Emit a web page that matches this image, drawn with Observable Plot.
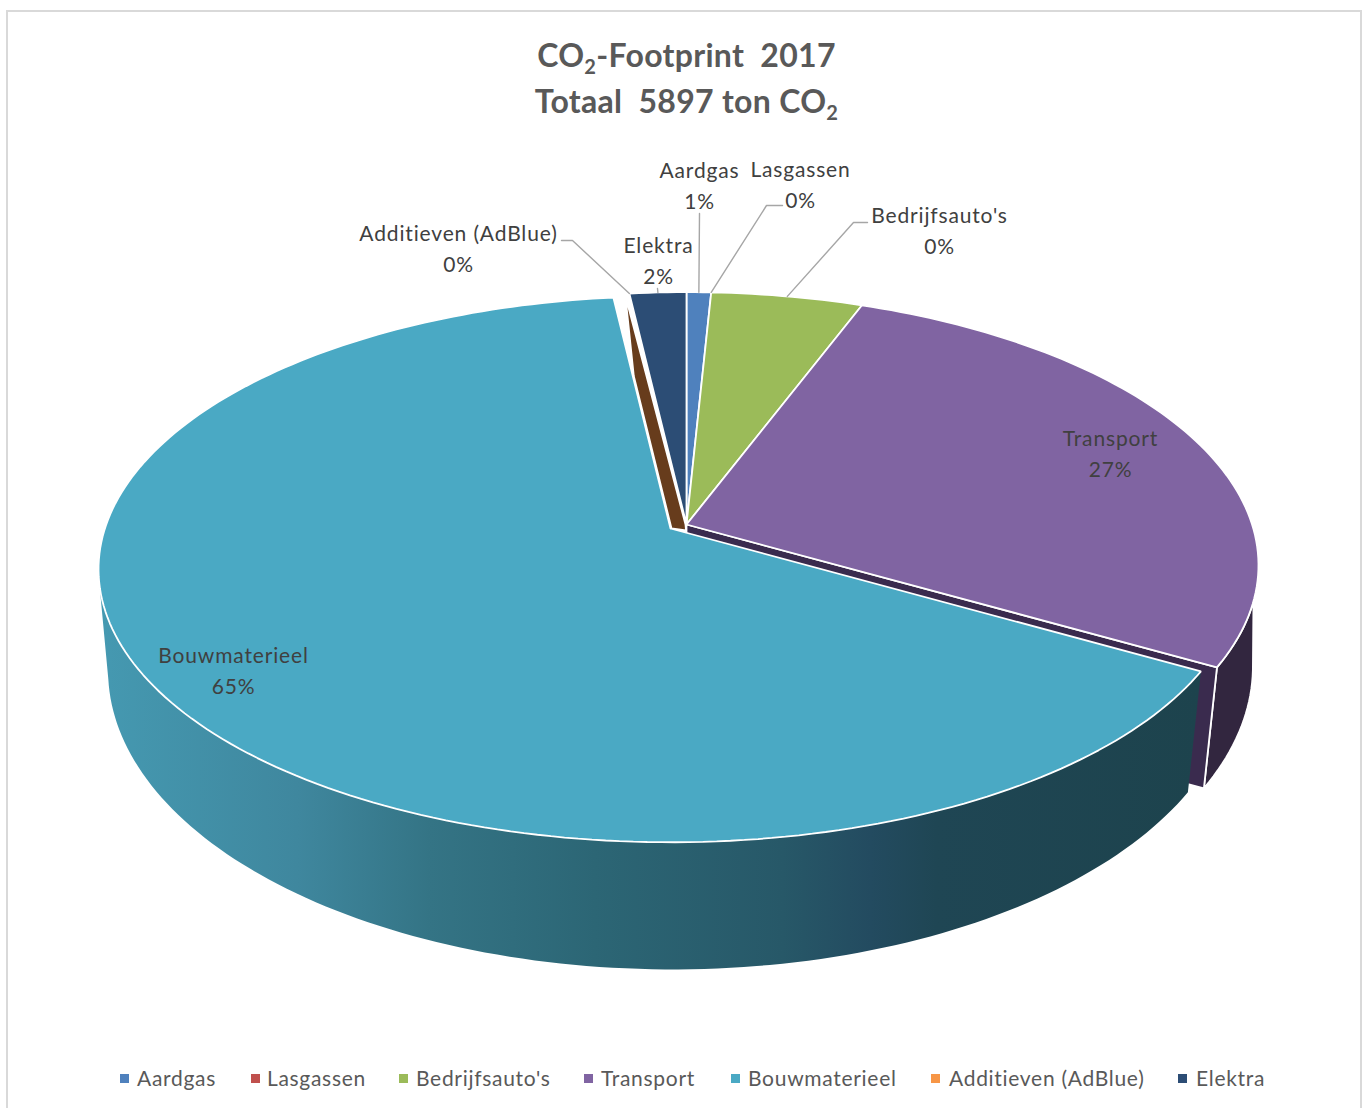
<!DOCTYPE html>
<html>
<head>
<meta charset="utf-8">
<script src="https://cdn.jsdelivr.net/npm/d3@7"></script>
<script src="https://cdn.jsdelivr.net/npm/@observablehq/plot@0.6"></script>
<style>
html,body{margin:0;padding:0;background:#fff;width:1365px;height:1108px;overflow:hidden;font-family:Lato,sans-serif}
#frame{position:absolute;left:6px;top:10px;width:1356px;height:1120px;border:2px solid #d9d9d9;box-sizing:border-box}
#page{position:absolute;left:0;top:0;width:1365px}
#title{position:relative;height:130px;padding-top:32px;box-sizing:border-box;text-align:center;color:#595959;font-weight:700;font-size:32px;line-height:46px;letter-spacing:.3px}
#title sub{font-size:20px;line-height:0;vertical-align:-7px}
#title div{position:relative;left:4px}
#chart svg{display:block;background:transparent}
#chart text{letter-spacing:.85px}
#legend{position:absolute;top:1065px;left:0;width:1365px;height:26px}
#legend span.item{position:absolute;top:0;white-space:nowrap;font-size:21px;line-height:26px;color:#595959;letter-spacing:.7px}
#legend i{position:absolute;top:9px;width:9px;height:9px}
</style>
</head>
<body>
<div id="frame"></div>
<div id="page">
  <div id="title"><div>CO<sub>2</sub>-Footprint&nbsp; 2017</div><div>Totaal&nbsp; 5897 ton CO<sub>2</sub></div></div>
  <div id="chart"></div>
</div>
<div id="legend"></div>
<script>
// ---- Data ----
const names = ["Aardgas", "Lasgassen", "Bedrijfsauto's", "Transport", "Bouwmaterieel", "Additieven (AdBlue)", "Elektra"];
const shares = [0.8, 0.0, 4.95, 27.5, 64.9, 0.0, 1.85];   // drawn size of each slice, percent
const printed = ["1%", "0%", "0%", "27%", "65%", "0%", "2%"]; // percentage as printed in the labels
const colors = ["#4f81bd", "#c0504d", "#9bbb59", "#8064a2", "#4aa9c4", "#f79646", "#2c4d75"];

// ---- Layout (not data) ----
const svgTop = 130, svgHeight = 930;
const main = {cx: 686, cy: 524};       // hub of the un-exploded slices
const burst = {cx: 670, cy: 528};      // hub of the pulled-out Bouwmaterieel slice
const topFace = {a: 565.6, b: 267, k: 0.149, dx: 0, dy: 0};
const lowFace = {a: 561, b: 295.4, k: 0.11, dx: 2, dy: 109};
const labelPlaces = {
  "Aardgas": [699, 183], "Lasgassen": [800, 182], "Bedrijfsauto's": [939, 228],
  "Transport": [1110, 451.5], "Bouwmaterieel": [233, 668],
  "Additieven (AdBlue)": [458, 246], "Elektra": [658, 258]
};
const elbows = {
  "Aardgas": [[699, 213]], "Lasgassen": [[782, 205], [766, 205]],
  "Bedrijfsauto's": [[867, 222], [853, 222]], "Additieven (AdBlue)": [[561, 240], [572, 240]],
  "Elektra": [[657, 288]]
};
const legendX = [[120, 137], [251, 267], [399, 416], [584, 601], [731, 748], [931, 949], [1178, 1196]];

// Perspective projection of the round pie onto the screen.
function project(hub, face, pct) {
  const t = pct / 100 * 2 * Math.PI, u = Math.sin(t), v = Math.cos(t), w = 1 + face.k * v;
  return {x: hub.cx + face.dx + face.a * u / w, y: hub.cy + face.dy - face.b * v / w};
}
function arc(hub, face, from, to) {
  const n = Math.max(2, Math.ceil(Math.abs(to - from) * 3));
  return d3.range(n + 1).map(i => project(hub, face, from + (to - from) * i / n));
}

let cum = 0;
const slices = names.map((name, i) => {
  const s = {name, start: cum, end: cum + shares[i], mid: cum + shares[i] / 2, label: printed[i]};
  cum = s.end;
  return s;
});
const byName = Object.fromEntries(slices.map(s => [s.name, s]));
const T = byName["Transport"], B = byName["Bouwmaterieel"], E = byName["Elektra"];

// Top faces
const faces = slices.filter(s => s.end > s.start).flatMap(s => {
  const hub = s.name === "Bouwmaterieel" ? burst : main;
  const apex = {x: hub.cx, y: hub.cy};
  return [apex, ...arc(hub, topFace, s.start, s.end), apex].map(p => ({...p, name: s.name}));
});

// Side walls
const ring = (hub, topFrom, topTo, lowFrom, lowTo) => {
  const pts = [...arc(hub, topFace, topFrom, topTo), ...arc(hub, lowFace, lowFrom, lowTo)];
  return [...pts, pts[0]];
};
const pctOf = deg => deg / 3.6;
const blueWall = ring(burst, B.start, pctOf(258), pctOf(262), B.start);
const purpleWall = ring(main, pctOf(106), T.end, T.end, pctOf(97));
const cornerTop = project(main, topFace, T.end), cornerLow = project(main, lowFace, T.end);
const purpleCut = [{x: main.cx, y: main.cy}, cornerTop, cornerLow, {x: main.cx, y: main.cy + 126}, {x: main.cx, y: main.cy}];

// Additieven: a zero-width slice of which only the brown cut face shows
const addRim = project(main, topFace, E.start);
const blueRim = project(burst, topFace, B.end);
const brownTop = {x: addRim.x - 4, y: addRim.y + 2};
const brown = [
  brownTop,
  {x: blueRim.x + (burst.cx - blueRim.x) * 0.34 + 1, y: blueRim.y + (burst.cy - blueRim.y) * 0.34},
  {x: burst.cx + 1, y: burst.cy},
  {x: main.cx - 0.5, y: main.cy + 6},
  {x: main.cx - 1, y: main.cy},
  brownTop
];

// Labels and leaders
const labels = slices.map(s => ({x: labelPlaces[s.name][0], y: labelPlaces[s.name][1], text: s.name + "\n" + s.label}));
const leaders = slices.filter(s => elbows[s.name]).flatMap(s => {
  const end = s.name === "Additieven (AdBlue)" ? addRim : project(main, topFace, s.mid);
  return [...elbows[s.name].map(([x, y]) => ({x, y})), end].map(p => ({...p, name: s.name}));
});

const wallDefs = () => {
  const defs = d3.create("svg:defs");
  const g = defs.append("linearGradient").attr("id", "wallGrad").attr("x1", 0).attr("x2", 1).attr("y1", 0).attr("y2", 0);
  [[0, "#4599b1"], [0.18, "#3f879e"], [0.3, "#347485"], [0.45, "#2c6675"], [0.62, "#275868"], [0.7, "#234b60"], [0.76, "#1f4654"], [1, "#1d434d"]]
    .forEach(([o, c]) => g.append("stop").attr("offset", o).attr("stop-color", c));
  return defs.node();
};

const white = {stroke: "white", strokeWidth: 1.8, strokeLinejoin: "miter"};
const plot = Plot.plot({
  width: 1365, height: svgHeight, margin: 0,
  x: {domain: [0, 1365], range: [0, 1365], axis: null},
  y: {domain: [svgTop, svgTop + svgHeight], range: [0, svgHeight], axis: null},
  color: {domain: names, range: colors},
  marks: [
    wallDefs,
    Plot.line(purpleWall, {x: "x", y: "y", fill: "#32263f", ...white}),
    Plot.line(purpleCut, {x: "x", y: "y", fill: "#3a2b4e", ...white}),
    Plot.line(blueWall, {x: "x", y: "y", fill: "url(#wallGrad)", stroke: "white", strokeWidth: 1, strokeOpacity: 0}),
    Plot.line(brown, {x: "x", y: "y", fill: "#673c1c", ...white}),
    Plot.line(faces, {x: "x", y: "y", z: "name", fill: "name", ...white}),
    Plot.line(leaders, {x: "x", y: "y", z: "name", stroke: "#a6a6a6", strokeWidth: 1.4}),
    Plot.text(labels, {x: "x", y: "y", text: "text", fontSize: 21, lineHeight: 1.46, fill: "#404040", fontFamily: "Lato, sans-serif", lineAnchor: "middle"})
  ]
});
document.getElementById("chart").appendChild(plot);

const legend = d3.select("#legend");
names.forEach((n, i) => {
  legend.append("i").style("left", legendX[i][0] + "px").style("background", colors[i]);
  legend.append("span").attr("class", "item").style("left", legendX[i][1] + "px").text(n);
});
</script>
</body>
</html>
